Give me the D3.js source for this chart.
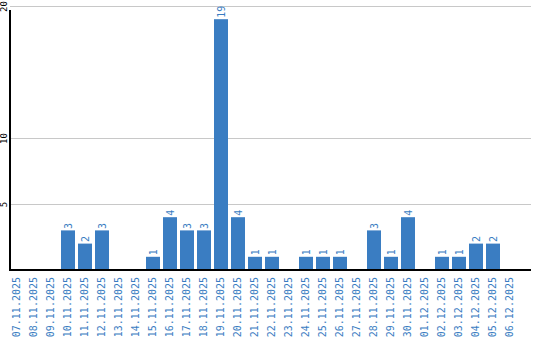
<!DOCTYPE html>
<html><head><meta charset="utf-8">
<script src="https://cdn.jsdelivr.net/npm/d3@7"></script>
<style>body{margin:0;background:#fff}svg{display:block}</style>
</head><body>
<script>
const dates = ["07.11.2025","08.11.2025","09.11.2025","10.11.2025","11.11.2025","12.11.2025","13.11.2025","14.11.2025","15.11.2025","16.11.2025","17.11.2025","18.11.2025","19.11.2025","20.11.2025","21.11.2025","22.11.2025","23.11.2025","24.11.2025","25.11.2025","26.11.2025","27.11.2025","28.11.2025","29.11.2025","30.11.2025","01.12.2025","02.12.2025","03.12.2025","04.12.2025","05.12.2025","06.12.2025"];
const counts = [0,0,0,3,2,3,0,0,1,4,3,3,19,4,1,1,0,1,1,1,0,3,1,4,0,1,1,2,2,0];
const yTicks = [5,10,20];

const W = 540, H = 340;
const blue = "#3a7dc2";
const svg = d3.select("body").append("svg").attr("width", W).attr("height", H);

const x = d3.scaleBand().domain(dates).range([10, 517]).paddingInner(3/17).paddingOuter(0);
const y = d3.scaleLinear().domain([0, 20]).range([270, 6]);

// gridlines + y labels
const yAxis = d3.axisLeft(y).tickValues(yTicks).tickSize(-521).tickFormat(d3.format("d"));
const gy = svg.append("g").attr("transform", "translate(10,0)").call(yAxis);
gy.select(".domain").remove();
gy.selectAll(".tick line").attr("stroke", "#c8c8c8").attr("stroke-width", 1.2);
gy.selectAll(".tick text")
  .attr("x", 0).attr("dy", 0)
  .attr("transform", "translate(-3,0) rotate(-90)")
  .attr("text-anchor", "middle")
  .attr("font-family", "DejaVu Sans Mono, monospace").attr("font-size", 9).attr("fill", "#000");

// bars
svg.append("g").selectAll("rect").data(dates.map((d,i)=>({d, v: counts[i]})).filter(o=>o.v>0))
  .join("rect")
  .attr("x", o => x(o.d)).attr("width", x.bandwidth())
  .attr("y", o => y(o.v)).attr("height", o => y(0) - y(o.v))
  .attr("fill", blue);

// value labels
svg.append("g").selectAll("text").data(dates.map((d,i)=>({d, v: counts[i]})).filter(o=>o.v>0))
  .join("text")
  .attr("transform", o => `translate(${x(o.d) + x.bandwidth()/2 + 4},${y(o.v) - 1.5}) rotate(-90)`)
  .attr("text-anchor", "start")
  .attr("font-family", "DejaVu Sans Mono, monospace").attr("font-size", 10).attr("fill", blue)
  .text(o => o.v);

// x axis
const xAxis = d3.axisBottom(x).tickSize(0);
const gx = svg.append("g").attr("transform", "translate(0,270)").call(xAxis);
gx.select(".domain").remove();
gx.selectAll(".tick text")
  .attr("y", 0).attr("dy", 0)
  .attr("transform", `translate(${x.step()/2 - x.bandwidth()/2 + 1.5},7) rotate(-90)`)
  .attr("text-anchor", "end")
  .attr("font-family", "DejaVu Sans Mono, monospace").attr("font-size", 10).attr("fill", blue);

// axis lines
svg.append("line").attr("x1", 10).attr("x2", 531).attr("y1", 270).attr("y2", 270).attr("stroke", "#000").attr("stroke-width", 2);
svg.append("line").attr("x1", 10).attr("x2", 10).attr("y1", 10).attr("y2", 271).attr("stroke", "#000").attr("stroke-width", 2);
</script>
</body></html>
